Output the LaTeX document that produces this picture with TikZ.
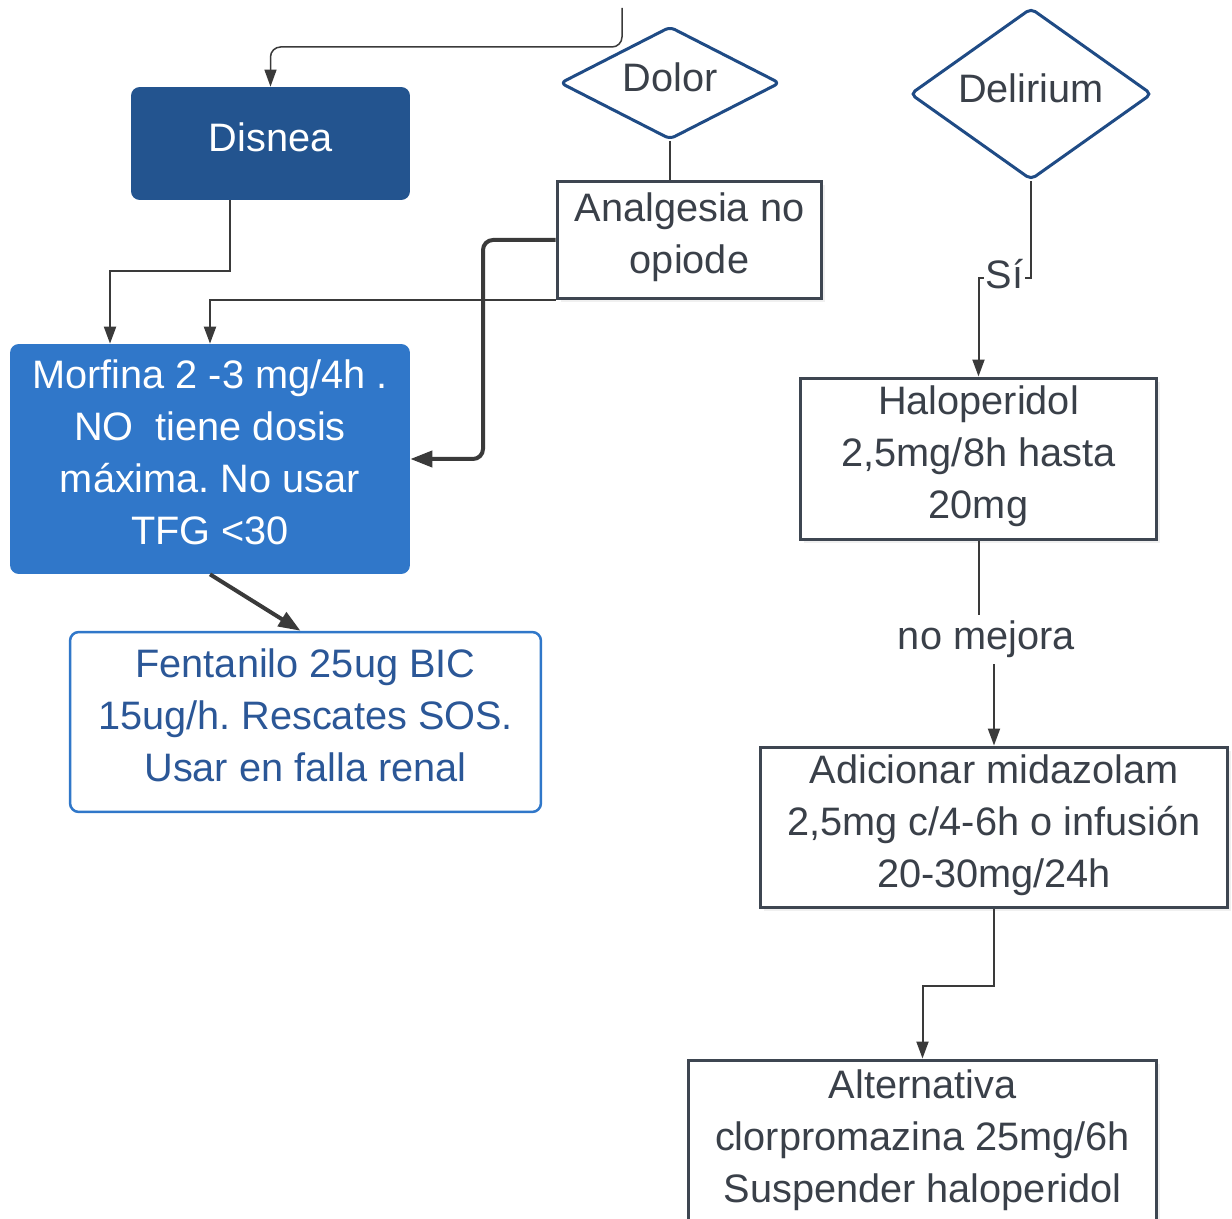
\documentclass[tikz,border=0pt]{standalone}
\usepackage{fontspec}
\setmainfont{Liberation Sans}
\frenchspacing
\usetikzlibrary{positioning}
\usetikzlibrary{shapes.geometric}
\usetikzlibrary{arrows.meta}
\usetikzlibrary{shadows}

\definecolor{darkblue}{HTML}{23548F}
\definecolor{midblue}{HTML}{3077C9}
\definecolor{diablue}{HTML}{1F4B85}
\definecolor{fentext}{HTML}{2B5797}
\definecolor{boxgray}{HTML}{3E4651}
\definecolor{txtgray}{HTML}{3A4049}
\definecolor{linegray}{HTML}{3A3A3A}

% lines of a box, set on struts
\newcommand{\boxlines}[1]{\begin{tabular}{@{}c@{}}#1\\[3pt]\end{tabular}}

\tikzset{
  txt/.style={font=\fontsize{22.6}{29.5}\selectfont},
  decision/.style={txt, diamond, draw=diablue, line width=0.06cm, fill=white, text=txtgray, inner sep=0pt, rounded corners=3pt, text depth=7pt},
  stepbox/.style={txt, rectangle, draw=boxgray, line width=0.06cm, fill=white, text=txtgray, inner sep=0pt,
    drop shadow={shadow xshift=2pt, shadow yshift=-2pt, opacity=0.12}},
  bluebox/.style={txt, rectangle, rounded corners=5pt, text=white, inner sep=0pt},
  thinlink/.style={draw=linegray, line width=0.04cm, -{Triangle[length=0.34cm, width=0.24cm]}},
  thicklink/.style={draw=linegray, line width=0.08cm, -{Triangle[length=0.44cm, width=0.32cm]}},
  edgelabel/.style={txt, fill=white, text=txtgray}
}

\begin{document}
\begin{tikzpicture}[x=0.02cm, y=-0.02cm]
\useasboundingbox (0,0) rectangle (1232,1219);

% left branch
\node[bluebox, fill=darkblue, minimum width=5.58cm, minimum height=2.26cm] (disnea) at (270.5,143.5) {\boxlines{Disnea}};
\node[decision, aspect=2, minimum width=4.4cm, minimum height=2.26cm] (dolor) at (670,83) {Dolor};
\node[stepbox, minimum width=5.3cm, minimum height=2.36cm] (analgesia) at (689.5,240) {\boxlines{Analgesia no\\opiode}};
\node[bluebox, fill=midblue, minimum width=8cm, minimum height=4.6cm] (morfina) at (210,459) {\boxlines{Morfina 2 -3 mg/4h .\\NO~ tiene dosis\\máxima. No usar\\TFG <30}};
\node[txt, rectangle, rounded corners=5pt, draw=midblue, line width=0.05cm, fill=white, text=fentext, inner sep=0pt, minimum width=9.42cm, minimum height=3.6cm] (fentanilo) at (305.5,722) {\boxlines{Fentanilo 25ug BIC\\15ug/h. Rescates SOS.\\Usar en falla renal}};

% right branch
\node[decision, aspect=1.4, minimum width=4.84cm, minimum height=3.44cm] (delirium) at (1031,94) {Delirium};
\node[stepbox, minimum width=7.14cm, minimum height=3.24cm] (haloperidol) at (978.5,459) {\boxlines{Haloperidol\\2,5mg/8h hasta\\20mg}};
\node[stepbox, minimum width=9.36cm, minimum height=3.22cm] (midazolam) at (994,827.5) {\boxlines{Adicionar midazolam\\2,5mg c/4-6h o infusión\\20-30mg/24h}};
\node[stepbox, minimum width=9.38cm, minimum height=3.3cm] (alternativa) at (922.5,1142.5) {\boxlines{Alternativa\\clorpromazina 25mg/6h\\Suspender haloperidol}};

\coordinate (entrada) at (622,8);

% connectors
\draw[thinlink, line width=0.03cm, rounded corners=0.2cm] (entrada) -- (622,47) -| (disnea.north);
\draw[draw=linegray, line width=0.04cm] (dolor.south) -- (dolor.south |- analgesia.north);
\draw[thicklink, rounded corners=0.2cm] (analgesia.west) -- (483,240) -- (483,459) -- (morfina.east);
\draw[thinlink] (analgesia.south west) -| (morfina.north);
\draw[thinlink] ([xshift=-0.82cm]disnea.south) -- ++(0,71) -| ([xshift=-2cm]morfina.north);
\draw[thicklink] (morfina.south) -- ([xshift=-0.1cm]fentanilo.north);

\draw[thinlink] (delirium.south) -- ++(0,97) -| node[edgelabel, pos=0.25, inner sep=1pt, yshift=0.08cm] {Sí} (haloperidol.north);
\draw[thinlink] (haloperidol.south) -- ++(0,98) -| node[edgelabel, pos=0.25] {no mejora} (midazolam.north);
\draw[thinlink] (midazolam.south) -- ++(0,77) -| (alternativa.north);
\end{tikzpicture}
\end{document}
